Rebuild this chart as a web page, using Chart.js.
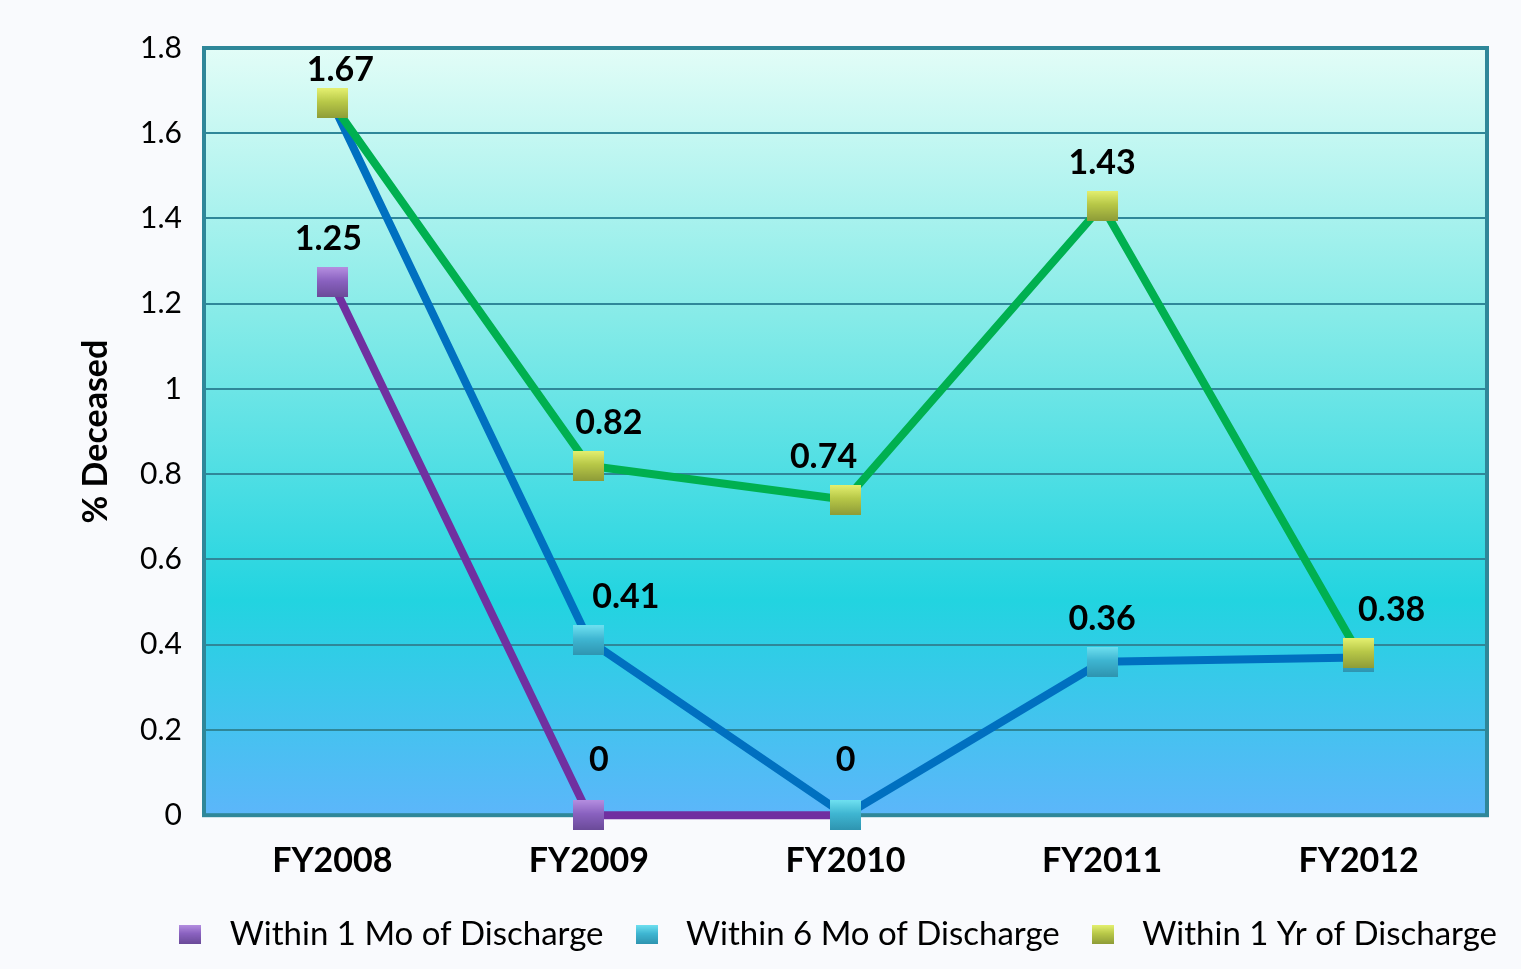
<!DOCTYPE html>
<html>
<head>
<meta charset="utf-8">
<script src="https://cdn.jsdelivr.net/npm/chart.js@4"></script>
<style>
  html, body { margin: 0; padding: 0; background: #f9fafd; }
  #wrap { width: 1521px; height: 969px; }
</style>
</head>
<body>
<div id="wrap"><canvas id="lineChart"></canvas></div>
<script>
const years = ["FY2008", "FY2009", "FY2010", "FY2011", "FY2012"];
const within1Mo = [1.25, 0, 0, null, null];
const within6Mo = [1.67, 0.41, 0, 0.36, 0.37];
const within1Yr = [1.67, 0.82, 0.74, 1.43, 0.38];
const yTicks = [0, 0.2, 0.4, 0.6, 0.8, 1, 1.2, 1.4, 1.6, 1.8];

// which points get a value label: [dataset, index, x shift, y shift]
const shownLabels = [
    [2, 0, 8, 0], [0, 0, -4, 0], [2, 1, 20, 0], [1, 1, 37, 0], [0, 1, 10, -12],
    [2, 2, -22, 0], [1, 2, 0, -12], [2, 3, 0, 0], [1, 3, 0, 0], [2, 4, 33, 0]
];

const FONT = "Lato, 'Open Sans', sans-serif";

// little bevelled square used as a marker
function makeSquare(w, h, light, mid, dark) {
    const c = document.createElement("canvas");
    c.width = w;
    c.height = h;
    const g = c.getContext("2d");
    const grad = g.createLinearGradient(0, 0, 0, h);
    grad.addColorStop(0, light);
    grad.addColorStop(0.45, mid);
    grad.addColorStop(1, dark);
    g.fillStyle = grad;
    g.fillRect(0, 0, w, h);
    return c;
}

const purpleMark = makeSquare(31, 30, "#b48ee0", "#8a62c0", "#6a4a98");
const cyanMark = makeSquare(31, 30, "#6ee0f0", "#3fb6d2", "#2e94b0");
const greenMark = makeSquare(31, 30, "#e4f070", "#b8c848", "#8e9c38");
const purpleKey = makeSquare(22, 19, "#b48ee0", "#8a62c0", "#6a4a98");
const cyanKey = makeSquare(22, 19, "#6ee0f0", "#3fb6d2", "#2e94b0");
const greenKey = makeSquare(22, 19, "#e4f070", "#b8c848", "#8e9c38");

const plotBackground = {
    id: "plotBackground",
    afterLayout(chart) {
        // legend sits a little further right and higher than the default
        const lg = chart.legend;
        lg.left += 30;
        lg.right += 30;
        lg.top -= 8;
        lg.bottom -= 8;
    },
    beforeDraw(chart) {
        const { ctx, chartArea: a } = chart;
        const grad = ctx.createLinearGradient(0, a.top, 0, a.bottom);
        grad.addColorStop(0, "#e2fdf7");
        grad.addColorStop(0.35, "#86ebe8");
        grad.addColorStop(0.72, "#22d4e0");
        grad.addColorStop(1, "#5cb6fa");
        ctx.save();
        ctx.fillStyle = grad;
        ctx.fillRect(a.left, a.top, a.right - a.left, a.bottom - a.top);
        ctx.restore();
    },
    beforeDatasetsDraw(chart) {
        const { ctx, chartArea: a } = chart;
        ctx.save();
        ctx.strokeStyle = "#2f8799";
        ctx.lineWidth = 4;
        ctx.strokeRect(a.left, a.top, a.right - a.left, a.bottom - a.top);
        ctx.restore();
    }
};

const valueLabels = {
    id: "valueLabels",
    afterDatasetsDraw(chart) {
        const ctx = chart.ctx;
        ctx.save();
        ctx.font = "bold 34px " + FONT;
        ctx.fillStyle = "#000";
        ctx.textAlign = "center";
        ctx.textBaseline = "alphabetic";
        shownLabels.forEach(([ds, i, dx, dy]) => {
            const pt = chart.getDatasetMeta(ds).data[i];
            const v = chart.data.datasets[ds].data[i];
            let y = pt.y - 32 + dy;
            if (y < 81) y = 81;
            ctx.fillText(String(v), pt.x + dx, y);
        });
        ctx.restore();
    }
};

const ctx = document.getElementById("lineChart");

new Chart(
    ctx, {
        type: "line",
        data: {
            labels: years,
            datasets: [
                {
                    label: "Within 1 Mo of Discharge",
                    data: within1Mo,
                    borderColor: "#7030a0",
                    borderWidth: 8,
                    pointStyle: purpleMark,
                    legendStyle: purpleKey,
                    clip: false,
                    order: 3
                },
                {
                    label: "Within 6 Mo of Discharge",
                    data: within6Mo,
                    borderColor: "#0070c0",
                    borderWidth: 8,
                    pointStyle: cyanMark,
                    legendStyle: cyanKey,
                    clip: false,
                    order: 2
                },
                {
                    label: "Within 1 Yr of Discharge",
                    data: within1Yr,
                    borderColor: "#00b050",
                    borderWidth: 8,
                    pointStyle: greenMark,
                    legendStyle: greenKey,
                    clip: false,
                    order: 1
                }
            ]
        },
        options: {
            responsive: true,
            maintainAspectRatio: false,
            animation: false,
            spanGaps: false,
            layout: { padding: { top: 48, right: 34, left: 76, bottom: 0 } },
            scales: {
                x: {
                    offset: true,
                    grid: { display: false, drawTicks: false },
                    border: { display: false },
                    ticks: {
                        color: "#000",
                        padding: 25,
                        font: { family: FONT, size: 34, weight: "bold" }
                    }
                },
                y: {
                    min: 0,
                    max: 1.8,
                    afterBuildTicks(scale) {
                        scale.ticks = yTicks.map(v => ({ value: v }));
                    },
                    afterFit(scale) {
                        scale.width = 128;
                    },
                    grid: { color: "#2f8799", lineWidth: 2, drawTicks: false },
                    border: { display: false },
                    title: {
                        display: true,
                        text: "% Deceased",
                        color: "#000",
                        padding: { top: 0, bottom: 0 },
                        font: { family: FONT, size: 34, weight: "bold" }
                    },
                    ticks: {
                        color: "#000",
                        padding: 22,
                        callback: v => String(Math.round(v * 10) / 10),
                        font: { family: FONT, size: 30 }
                    }
                }
            },
            plugins: {
                tooltip: { enabled: false },
                legend: {
                    position: "bottom",
                    align: "end",
                    labels: {
                        color: "#000",
                        font: { family: FONT, size: 33 },
                        usePointStyle: true,
                        pointStyleWidth: 46,
                        padding: 20,
                        generateLabels(chart) {
                            return chart.data.datasets.map((d, i) => ({
                                text: d.label,
                                pointStyle: d.legendStyle,
                                fillStyle: d.borderColor,
                                strokeStyle: d.borderColor,
                                lineWidth: 0,
                                hidden: false,
                                datasetIndex: i
                            }));
                        }
                    }
                }
            },
            elements: {
                point: { radius: 21, hoverRadius: 21 },
                line: { tension: 0 }
            }
        },
        plugins: [plotBackground, valueLabels]
    }
)
</script>
</body>
</html>
